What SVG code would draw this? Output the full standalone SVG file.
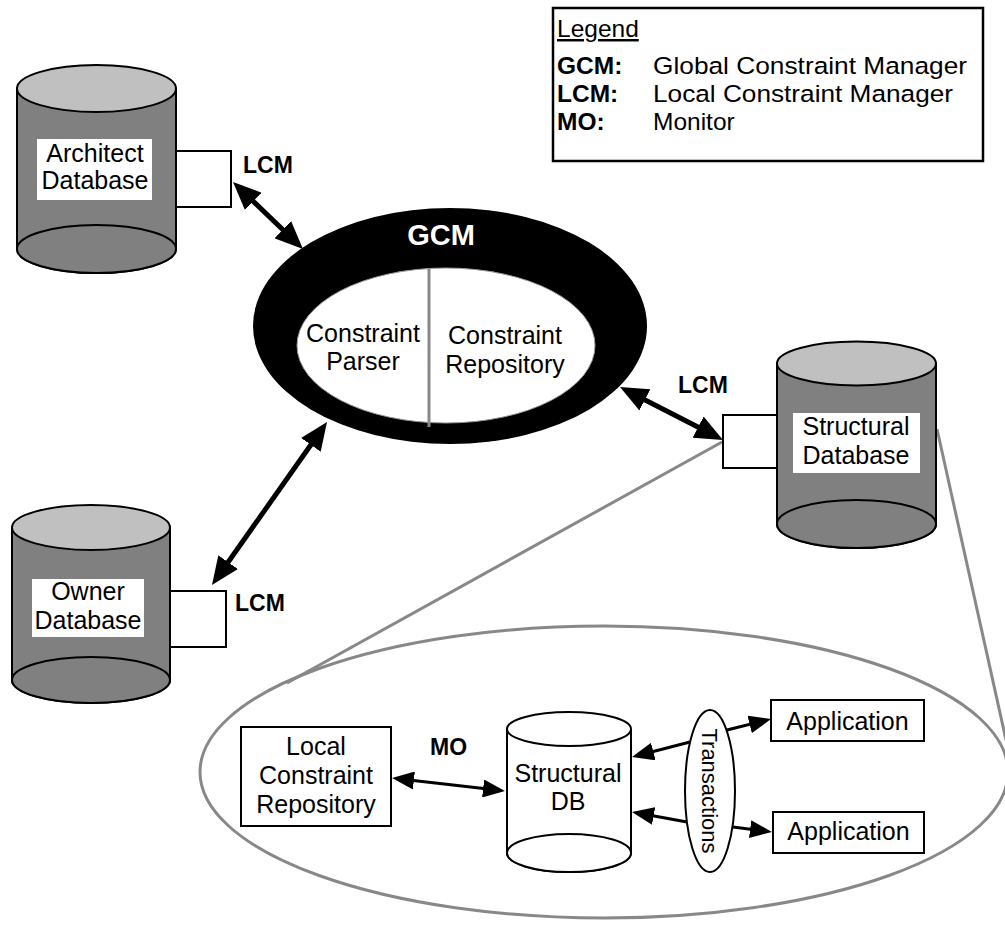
<svg xmlns="http://www.w3.org/2000/svg" width="1005" height="926" viewBox="0 0 1005 926">
<defs>
<style>
text{font-family:"Liberation Sans",Arial,Helvetica,sans-serif;fill:#000}
.t{font-size:25px;text-anchor:middle}
.b{font-weight:bold;font-size:23px}
.lg{font-size:24.5px}
.lgb{font-size:24.5px;font-weight:bold}
.body{fill:#808080;stroke:#000;stroke-width:2}
.top{fill:#c0c0c0;stroke:#000;stroke-width:2}
.lbl{fill:#fff;stroke:none}
.box{fill:#fff;stroke:#000;stroke-width:2}
.wcyl{fill:#fff;stroke:#000;stroke-width:2}
.big{stroke:#000;stroke-width:5;fill:none}
.sm{stroke:#000;stroke-width:3;fill:none}
.gray{stroke:#888;stroke-width:3;fill:none}
</style>
<marker id="hb" viewBox="0 0 28 24" refX="20" refY="12" markerWidth="28" markerHeight="24" markerUnits="userSpaceOnUse" orient="auto-start-reverse"><path d="M0,0 L28,12 L0,24 z" fill="#000"/></marker>
<marker id="hs" viewBox="0 0 22 18" refX="16" refY="9" markerWidth="22" markerHeight="18" markerUnits="userSpaceOnUse" orient="auto-start-reverse"><path d="M0,0 L22,9 L0,18 z" fill="#000"/></marker>
</defs>
<rect width="1005" height="926" fill="#fff"/>

<g id="detail-ellipse">
<ellipse cx="604" cy="772" rx="404" ry="146" class="gray"/>
<line x1="722" y1="442" x2="287" y2="683" class="gray"/>
<line x1="937" y1="429" x2="1006" y2="740" class="gray"/>
</g>

<g id="legend">
<rect x="553" y="8" width="430" height="153" fill="#fff" stroke="#000" stroke-width="2.5"/>
<text x="557" y="37" class="lg" text-decoration="underline">Legend</text>
<text x="557" y="74" class="lgb">GCM:</text>
<text x="653" y="74" class="lg" textLength="314" lengthAdjust="spacingAndGlyphs">Global Constraint Manager</text>
<text x="557" y="102" class="lgb">LCM:</text>
<text x="653" y="102" class="lg" textLength="300" lengthAdjust="spacingAndGlyphs">Local Constraint Manager</text>
<text x="557" y="130" class="lgb">MO:</text>
<text x="653" y="130" class="lg">Monitor</text>
</g>

<g id="architect">
<rect x="175" y="151" width="56" height="56" class="box"/>
<path d="M17,88.5 L17,249 A79.5,24 0 0 0 176,249 L176,88.5 z" class="body"/>
<ellipse cx="96.5" cy="249" rx="79.5" ry="24" class="body"/>
<ellipse cx="96.5" cy="88.5" rx="79.5" ry="23.5" class="top"/>
<rect x="37" y="139" width="115" height="61" class="lbl"/>
<text x="95" y="162" class="t">Architect</text>
<text x="95" y="189" class="t">Database</text>
</g>

<g id="owner">
<rect x="170" y="591" width="56" height="56" class="box"/>
<path d="M12,527.5 L12,680 A79,23 0 0 0 170,680 L170,527.5 z" class="body"/>
<ellipse cx="91" cy="680" rx="79" ry="23" class="body"/>
<ellipse cx="91" cy="527.5" rx="79" ry="22.5" class="top"/>
<rect x="32" y="579" width="112" height="58" class="lbl"/>
<text x="88" y="600" class="t">Owner</text>
<text x="88" y="629" class="t">Database</text>
</g>

<g id="structural">
<rect x="723" y="415" width="54" height="53" class="box"/>
<path d="M777,363.5 L777,524 A79.5,24 0 0 0 936,524 L936,363.5 z" class="body"/>
<ellipse cx="856.5" cy="524" rx="79.5" ry="24" class="body"/>
<ellipse cx="856.5" cy="363.5" rx="79.5" ry="22" class="top"/>
<rect x="793" y="413" width="127" height="60" class="lbl"/>
<text x="856" y="435" class="t">Structural</text>
<text x="856" y="464" class="t">Database</text>
</g>

<g id="gcm">
<ellipse cx="450" cy="326" rx="197" ry="118" fill="#000"/>
<ellipse cx="446" cy="345.5" rx="149" ry="77.5" fill="#fff" stroke="#999" stroke-width="1"/>
<line x1="429" y1="269" x2="429" y2="427" stroke="#888" stroke-width="3"/>
<text x="441" y="245" font-size="29" font-weight="bold" text-anchor="middle" style="fill:#fff">GCM</text>
<text x="363" y="342" class="t">Constraint</text>
<text x="363" y="370" class="t">Parser</text>
<text x="505" y="344" class="t">Constraint</text>
<text x="505" y="373" class="t">Repository</text>
</g>

<g id="local-constraint-repository">
<rect x="241" y="727" width="150" height="99" class="box"/>
<text x="316" y="755" class="t">Local</text>
<text x="316" y="784" class="t">Constraint</text>
<text x="316" y="813" class="t">Repository</text>
</g>

<g id="structural-db">
<path d="M507,729 L507,853 A62,19 0 0 0 631,853 L631,729" class="wcyl"/>
<ellipse cx="569" cy="853" rx="62" ry="19" class="wcyl"/>
<ellipse cx="569" cy="729" rx="62" ry="17" class="wcyl"/>
<text x="568" y="782" class="t">Structural</text>
<text x="568" y="810" class="t">DB</text>
</g>

<g id="transactions">
<ellipse cx="710" cy="791" rx="25" ry="81" class="wcyl"/>
<text x="710" y="799" font-size="22" text-anchor="middle" transform="rotate(90 710 791)">Transactions</text>
</g>

<g id="application-1">
<rect x="771" y="700" width="153" height="41" class="box"/>
<text x="847.5" y="730" class="t">Application</text>
</g>

<g id="application-2">
<rect x="773" y="812" width="151" height="41" class="box"/>
<text x="848.5" y="840" class="t">Application</text>
</g>

<g id="connectors">
<line x1="238.8" y1="187.5" x2="297.2" y2="243.5" class="big" marker-start="url(#hb)" marker-end="url(#hb)"/>
<line x1="627.1" y1="390.7" x2="715.9" y2="436.3" class="big" marker-start="url(#hb)" marker-end="url(#hb)"/>
<line x1="322.4" y1="428.5" x2="216.6" y2="578.5" class="big" marker-start="url(#hb)" marker-end="url(#hb)"/>
<line x1="398" y1="778.7" x2="499" y2="790.3" class="sm" marker-start="url(#hs)" marker-end="url(#hs)"/>
<line x1="690" y1="742" x2="637.8" y2="755.5" class="sm" marker-end="url(#hs)"/>
<line x1="687" y1="822" x2="637.9" y2="813.1" class="sm" marker-end="url(#hs)"/>
<line x1="727" y1="730" x2="765.2" y2="720.5" class="sm" marker-end="url(#hs)"/>
<line x1="733" y1="827" x2="766" y2="831.2" class="sm" marker-end="url(#hs)"/>
<text x="243" y="173" class="b">LCM</text>
<text x="678" y="393" class="b">LCM</text>
<text x="235" y="611" class="b">LCM</text>
<text x="430" y="755" class="b">MO</text>
</g>
</svg>
